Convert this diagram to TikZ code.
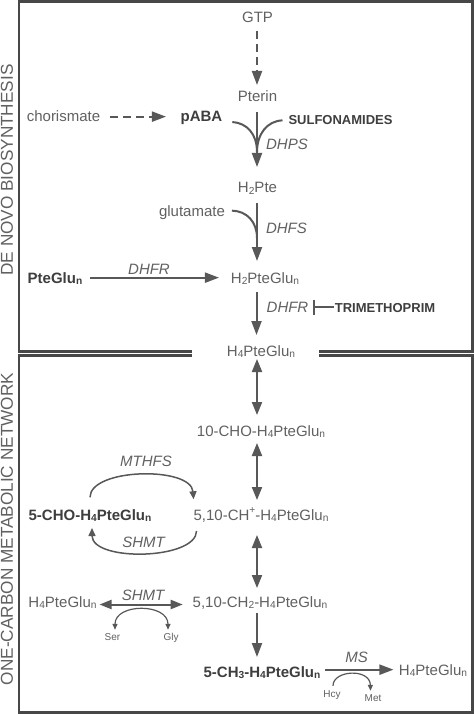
\documentclass[tikz,border=0pt]{standalone}
\usepackage{fontspec}
\setmainfont{Liberation Sans}
\usetikzlibrary{arrows.meta,calc}
\definecolor{txt}{HTML}{616161}
\definecolor{dark}{HTML}{3E3E3E}
\definecolor{ln}{HTML}{585858}
\definecolor{frm}{HTML}{474747}
\newcommand{\sbs}[1]{\raisebox{-0.1em}{\scalebox{0.68}{#1}}}
\newcommand{\spp}[1]{\raisebox{0.42em}{\scalebox{0.68}{#1}}}
\begin{document}
\begin{tikzpicture}[x=1pt,y=-1pt,
  every node/.style={inner sep=0pt,outer sep=0pt,anchor=base},
  lbl/.style={text=txt,font=\fontsize{15}{18}\selectfont,text height=10.7pt,text depth=0pt},
  blbl/.style={text=dark,font=\fontsize{15}{18}\selectfont\bfseries,text height=10.7pt,text depth=0pt},
  enz/.style={text=txt,font=\fontsize{15}{18}\selectfont\itshape,text height=10.7pt,text depth=0pt},
  drug/.style={text=dark,font=\fontsize{13}{15}\selectfont\bfseries,text height=9.3pt,text depth=0pt},
  tinylbl/.style={text=txt,font=\fontsize{10}{12}\selectfont,text height=7.2pt,text depth=0pt},
  side/.style={text=txt,font=\fontsize{17.2}{20}\selectfont,rotate=90,anchor=center},
  frame/.style={draw=frm,line width=2.2pt},
  rx/.style={draw=ln,line width=2pt,-{Triangle[length=14pt,width=10pt]}},
  dbl/.style={draw=ln,line width=2pt,{Triangle[length=13pt,width=10pt]}-{Triangle[length=13pt,width=10pt]}},
  cofac/.style={draw=ln,line width=2pt},
  smallarc/.style={draw=ln,line width=1.5pt,-{Triangle[length=8pt,width=7pt]}},
  tinyarc/.style={draw=ln,line width=1.2pt},
  dsh/.style={dash pattern=on 8pt off 5pt}
]
\fill[white] (0,0) rectangle (474,714);
\useasboundingbox (0,0) rectangle (474,714);

% frames
\draw[frame] (192,351.5) -- (19,351.5) -- (19,1.5) -- (472.5,1.5) -- (472.5,351.5) -- (319,351.5);
\draw[frame] (192,355.5) -- (19,355.5) -- (19,712.5) -- (472.5,712.5) -- (472.5,355.5) -- (319,355.5);

% side labels
\node[side] (sideA) at (7,170) {DE NOVO BIOSYNTHESIS};
\node[side] (sideB) at (7,529) {ONE-CARBON METABOLIC NETWORK};

% de novo nodes
\node[lbl] (gtp) at (257.5,23) {GTP};
\node[lbl] (pterin) at (257.5,102) {Pterin};
\node[lbl] (chor) at (63.5,122) {chorismate};
\node[blbl] (paba) at (201.5,122) {pABA};
\node[drug] (sulf) at (340.5,125) {SULFONAMIDES};
\node[enz] (dhps) at (287,150) {DHPS};
\node[lbl] (h2pte) at (257.5,193) {H\sbs{2}Pte};
\node[lbl] (glut) at (192,216) {glutamate};
\node[enz] (dhfs) at (286.5,233) {DHFS};
\node[blbl] (pteglu) at (55,283) {PteGlu\sbs{n}};
\node[enz] (dhfr1) at (149,274) {DHFR};
\node[lbl] (h2ptg) at (265,283) {H\sbs{2}PteGlu\sbs{n}};
\node[enz] (dhfr2) at (287.5,312) {DHFR};
\node[drug] (trim) at (385,312) {TRIMETHOPRIM};
\node[lbl] (h4ptg) at (261,356) {H\sbs{4}PteGlu\sbs{n}};

% one-carbon nodes
\node[lbl] (cho10) at (261,436) {10-CHO-H\sbs{4}PteGlu\sbs{n}};
\node[lbl] (ch510) at (261,520) {5,10-CH\spp{+}-H\sbs{4}PteGlu\sbs{n}};
\node[blbl] (cho5) at (90,520) {5-CHO-H\sbs{4}PteGlu\sbs{n}};
\node[enz] (mthfs) at (146,466) {MTHFS};
\node[enz] (shmt1) at (143.5,547) {SHMT};
\node[lbl] (ch2) at (260,607) {5,10-CH\sbs{2}-H\sbs{4}PteGlu\sbs{n}};
\node[lbl] (h4left) at (62.5,607) {H\sbs{4}PteGlu\sbs{n}};
\node[enz] (shmt2) at (143,600) {SHMT};
\node[tinylbl] (ser) at (112.5,640) {Ser};
\node[tinylbl] (gly) at (171,640) {Gly};
\node[blbl] (ch3) at (262,677) {5-CH\sbs{3}-H\sbs{4}PteGlu\sbs{n}};
\node[enz] (ms) at (356.5,662) {MS};
\node[lbl] (h4right) at (433,675) {H\sbs{4}PteGlu\sbs{n}};
\node[tinylbl] (hcy) at (332,697) {Hcy};
\node[tinylbl] (met) at (373,701) {Met};

% column coordinate and junctions
\coordinate (col) at (257,0);
\coordinate (dhpsj) at (257,152);
\coordinate (dhfsj) at (257,238);
\coordinate (inhib) at (313,307.35);

% de novo connectors
\draw[rx,dsh,shorten <=8pt,shorten >=6.3pt] (col |- gtp.south) -- (col |- pterin.north);
\draw[rx,dsh,shorten <=10pt,shorten >=14.7pt] (chor.east) -- (paba.west);
\draw[rx,shorten <=10pt,shorten >=15.3pt] (col |- pterin.south) -- (col |- h2pte.north);
\draw[cofac] ($(paba.base east)+(10,0)$) .. controls (247,123) and (257,134) .. (dhpsj);
\draw[cofac] ($(sulf.west)+(-6,0)$) .. controls (267,121) and (257,134) .. (dhpsj);
\draw[rx,shorten <=10pt,shorten >=11.3pt] (col |- h2pte.south) -- (col |- h2ptg.north);
\draw[cofac] ($(glut.east)+(7,0)$) .. controls (247,211) and (257,222) .. (dhfsj);
\draw[rx,shorten <=8pt,shorten >=12pt] (pteglu.east) -- (h2ptg.west);
\draw[rx,shorten <=9pt,shorten >=10.3pt] ([xshift=-0.5pt]col |- h2ptg.south) -- ([xshift=-0.5pt]col |- h4ptg.north);
\draw[draw=ln,line width=2pt,-{Bar[width=15pt]},shorten <=1pt] (trim.west) -- (inhib);

% one-carbon connectors
\draw[dbl,shorten <=3pt,shorten >=10.3pt] (col |- h4ptg.south) -- (col |- cho10.north);
\draw[dbl,shorten <=7pt,shorten >=9.3pt] (col |- cho10.south) -- (col |- ch510.north);
\draw[dbl,shorten <=15pt,shorten >=8.3pt] (col |- ch510.south) -- (col |- ch2.north);
\draw[rx,shorten <=6pt,shorten >=9.3pt] (col |- ch2.south) -- (col |- ch3.north);

\draw[smallarc] ($(cho5.north)+(0,-12)$) .. controls (90,468) and (191,466) .. ($(ch510.north west)+(0,-10)$);
\draw[smallarc] ($(ch510.south west)+(3,11)$) .. controls (196,560) and (92,562) .. ($(cho5.south)+(2,8)$);

\draw[dbl,{Triangle[length=12pt,width=9pt]}-{Triangle[length=12pt,width=9pt]}] ($(h4left.base east)+(3,-2.5)$) -- ($(ch2.base west)+(-10,-2.5)$);
\draw[tinyarc,{Triangle[length=6pt,width=5pt]}-{Triangle[length=6pt,width=5pt]}] ($(ser.north)+(2.5,-3)$) .. controls (115,603) and (168,603) .. ($(gly.north)+(-3,-3)$);

\draw[rx,shorten <=5pt,shorten >=5.5pt] (h4right.west -| ch3.east) -- (h4right.west);
\draw[tinyarc,-{Triangle[length=6pt,width=5pt]}] ($(hcy.north)+(1,-4)$) .. controls (333,670) and (370,668) .. ($(met.north)+(-2.5,-3)$);
\end{tikzpicture}
\end{document}
